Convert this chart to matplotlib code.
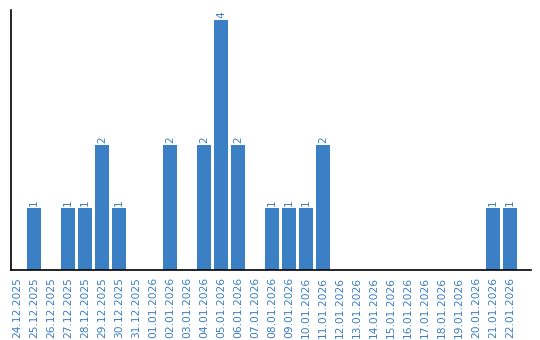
import matplotlib
matplotlib.use("Agg")
import matplotlib.pyplot as plt

dates = [
    "24.12.2025", "25.12.2025", "26.12.2025", "27.12.2025", "28.12.2025",
    "29.12.2025", "30.12.2025", "31.12.2025", "01.01.2026", "02.01.2026",
    "03.01.2026", "04.01.2026", "05.01.2026", "06.01.2026", "07.01.2026",
    "08.01.2026", "09.01.2026", "10.01.2026", "11.01.2026", "12.01.2026",
    "13.01.2026", "14.01.2026", "15.01.2026", "16.01.2026", "17.01.2026",
    "18.01.2026", "19.01.2026", "20.01.2026", "21.01.2026", "22.01.2026",
]
counts = [0, 1, 0, 1, 1, 2, 1, 0, 0, 2,
          0, 2, 4, 2, 0, 1, 1, 1, 2, 0,
          0, 0, 0, 0, 0, 0, 0, 0, 1, 1]

BLUE = "#3b7fc4"

fig = plt.figure(figsize=(5.4, 3.4), dpi=100)
ax = fig.add_axes([11 / 540, 1 - 270 / 340, 520 / 540, 260 / 340])

x = list(range(len(dates)))
ax.bar(x, counts, width=0.82, color=BLUE)

# value labels above the bars, turned like the dates
for xi, c in zip(x, counts):
    if c > 0:
        ax.text(xi, c + 0.03, str(c), rotation=90, ha="center", va="bottom",
                color=BLUE, fontsize=7.5)

ax.set_xlim(-0.35, 30.24)
ax.set_ylim(0, 4.16)
ax.set_xticks(x)
ax.set_xticklabels(dates, rotation=90, color=BLUE, fontsize=7.7)
ax.tick_params(axis="x", length=0, pad=5)
ax.set_yticks([])
for side in ("top", "right"):
    ax.spines[side].set_visible(False)
ax.spines["left"].set_linewidth(1.2)
ax.spines["bottom"].set_linewidth(1.2)

fig.savefig("out.png", dpi=100)
